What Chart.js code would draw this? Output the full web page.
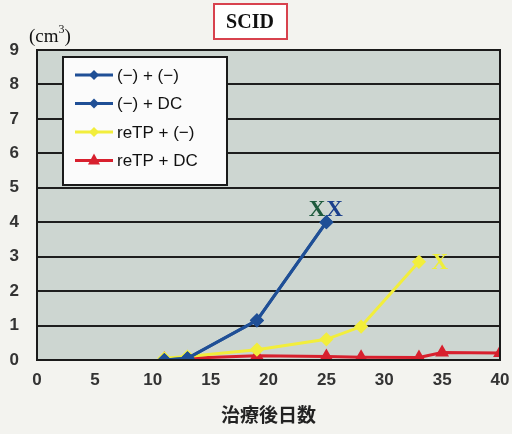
<!DOCTYPE html>
<html>
<head>
	<title>SCID</title>
	<script src="https://cdn.jsdelivr.net/npm/chart.js"></script>
	<style>
		body{ margin: 0; background: #f3f3ef; }
		#wrap{ width: 512px; height: 434px; }
	</style>
</head>
<body>
	<div id="wrap"><canvas id="chart1" width="512" height="434"></canvas></div>
	<script>
		// data (days after treatment, volume cm3)
		var seriesNames = ['(\u2212) + (\u2212)', '(\u2212) + DC', 'reTP + (\u2212)', 'reTP + DC'];
		var ctrlDays = [11, 13, 19, 25];
		var ctrlVals = [0.0, 0.05, 1.15, 4.0];
		var dcDays = [11, 13, 19, 25];
		var dcVals = [0.0, 0.05, 1.15, 4.0];
		var retpDays = [11, 13, 19, 25, 28, 33];
		var retpVals = [0.05, 0.1, 0.3, 0.6, 0.97, 2.85];
		var retpDcDays = [11, 13, 19, 25, 28, 33, 35, 40];
		var retpDcVals = [0.03, 0.05, 0.12, 0.1, 0.08, 0.07, 0.22, 0.2];
		var xTicks = [0, 5, 10, 15, 20, 25, 30, 35, 40];
		var yTicks = [0, 1, 2, 3, 4, 5, 6, 7, 8, 9];
		// death marks
		var marks = [
			{ x: 24.2, y: 4.35, text: 'X', color: '#1d5a3c' },
			{ x: 25.7, y: 4.35, text: 'X', color: '#1b3f8c' },
			{ x: 34.8, y: 2.8, text: 'X', color: '#eeee3a' }
		];

		function pts(xs, ys) {
			var out = [];
			for (var i = 0; i < xs.length; i++) out.push({ x: xs[i], y: ys[i] });
			return out;
		}

		var colors = ['#1f4f96', '#1f4f96', '#f2ee3c', '#d8202e'];
		var styles = ['rectRot', 'rectRot', 'rectRot', 'triangle'];

		var chartPlugin = {
			id: 'extras',
			beforeDraw: function(chart) {
				var c = chart.ctx, a = chart.chartArea;
				c.save();
				c.fillStyle = '#cdd6d1';
				c.fillRect(a.left, a.top, a.right - a.left, a.bottom - a.top);
				c.restore();
			},
			afterDatasetsDraw: function(chart) {
				var c = chart.ctx, a = chart.chartArea;
				var xs = chart.scales.x, ys = chart.scales.y;
				c.save();
				// plot border
				c.strokeStyle = '#1a1a1a';
				c.lineWidth = 2;
				c.strokeRect(a.left, a.top, a.right - a.left, a.bottom - a.top);
				// X marks
				c.font = 'bold 23px "Liberation Serif"';
				c.textAlign = 'center';
				c.textBaseline = 'middle';
				marks.forEach(function(m) {
					c.fillStyle = m.color;
					c.fillText(m.text, xs.getPixelForValue(m.x), ys.getPixelForValue(m.y));
				});
				// legend box
				var lx = 63, ly = 57, lw = 164, lh = 128;
				c.fillStyle = '#fbfbfb';
				c.fillRect(lx, ly, lw, lh);
				c.strokeStyle = '#1a1a1a';
				c.lineWidth = 2;
				c.strokeRect(lx, ly, lw, lh);
				c.font = '17px "Liberation Sans"';
				c.textAlign = 'left';
				seriesNames.forEach(function(name, i) {
					var yy = ly + 18 + i * 28.5;
					c.strokeStyle = colors[i];
					c.lineWidth = 3;
					c.beginPath();
					c.moveTo(lx + 12, yy);
					c.lineTo(lx + 50, yy);
					c.stroke();
					c.fillStyle = colors[i];
					c.beginPath();
					if (styles[i] === 'triangle') {
						c.moveTo(lx + 31, yy - 7);
						c.lineTo(lx + 37, yy + 4);
						c.lineTo(lx + 25, yy + 4);
					} else {
						c.moveTo(lx + 31, yy - 5);
						c.lineTo(lx + 36, yy);
						c.lineTo(lx + 31, yy + 5);
						c.lineTo(lx + 26, yy);
					}
					c.closePath();
					c.fill();
					c.fillStyle = '#111';
					c.fillText(name, lx + 54, yy + 1);
				});
				// title box
				c.fillStyle = '#ffffff';
				c.fillRect(214, 4, 73, 35);
				c.strokeStyle = '#d8424e';
				c.lineWidth = 2;
				c.strokeRect(214, 4, 73, 35);
				c.fillStyle = '#111';
				c.textAlign = 'center';
				c.font = 'bold 20px "Liberation Serif"';
				c.fillText('SCID', 250, 23);
				// unit label
				c.textAlign = 'left';
				c.font = '19px "Liberation Serif"';
				var ux = 29;
				c.fillText('(cm', ux, 37);
				ux += c.measureText('(cm').width;
				c.font = '12px "Liberation Serif"';
				c.fillText('3', ux, 30);
				ux += c.measureText('3').width;
				c.font = '19px "Liberation Serif"';
				c.fillText(')', ux, 37);
				c.restore();
			}
		};

		var datasets = [
			{ label: seriesNames[0], data: pts(ctrlDays, ctrlVals) },
			{ label: seriesNames[1], data: pts(dcDays, dcVals) },
			{ label: seriesNames[2], data: pts(retpDays, retpVals) },
			{ label: seriesNames[3], data: pts(retpDcDays, retpDcVals) }
		].map(function(d, i) {
			d.borderColor = colors[i];
			d.backgroundColor = colors[i];
			d.borderWidth = 3;
			d.pointStyle = styles[i];
			d.pointRadius = 5;
			d.tension = 0;
			return d;
		});

		var ctx = document.getElementById('chart1').getContext('2d');
		var myChart = new Chart(ctx, {
			type: 'line',
			data: { datasets: datasets },
			options: {
				responsive: false,
				animation: false,
				layout: { padding: { left: 0, top: 50, right: 12, bottom: 4 } },
				plugins: { legend: { display: false }, tooltip: { enabled: false } },
				scales: {
					x: {
						type: 'linear', min: 0, max: 40,
						afterBuildTicks: function(s) { s.ticks = xTicks.map(function(v) { return { value: v }; }); },
						afterFit: function(s) { s.height = 70; s.paddingRight = 0; },
						grid: { display: false, drawTicks: false },
						border: { display: false },
						ticks: { color: '#333', padding: 10, font: { family: 'Liberation Sans', size: 17, weight: 'bold' } },
						title: { display: true, text: '治療後日数', color: '#222', padding: { top: 8 },
							font: { family: 'Noto Sans CJK JP', size: 19, weight: 'bold' } }
					},
					y: {
						min: 0, max: 9,
						afterBuildTicks: function(s) { s.ticks = yTicks.map(function(v) { return { value: v }; }); },
						afterFit: function(s) { s.width = 37; },
						grid: { color: '#1e1e1e', lineWidth: 2, drawTicks: false },
						border: { display: false },
						ticks: { color: '#333', padding: 18, font: { family: 'Liberation Sans', size: 17, weight: 'bold' } }
					}
				}
			},
			plugins: [chartPlugin]
		});
	</script>
</body>
</html>
